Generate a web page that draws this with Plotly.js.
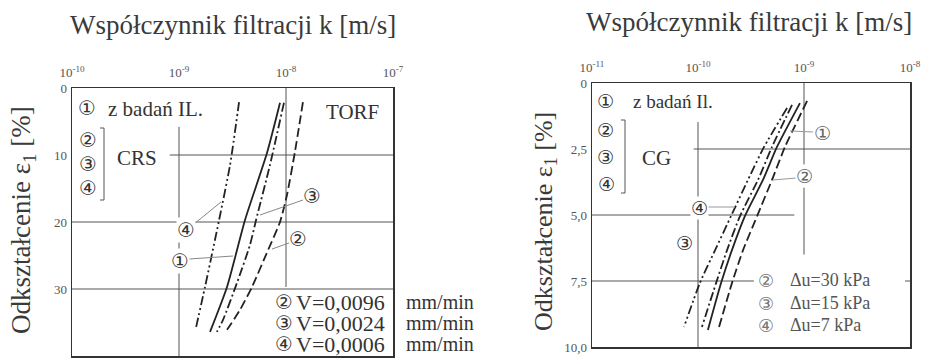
<!DOCTYPE html>
<html><head><meta charset="utf-8">
<script src="https://cdn.plot.ly/plotly-3.0.1.min.js"></script>
<style>html,body{margin:0;padding:0;background:#fff}#chart{width:928px;height:360px}</style>
</head><body><div id="chart"></div>
<script>
// ---------- DATA ----------
// Left panel: TORF — k [m/s] vs strain eps1 [%]
const torfK_IL    = [8.79e-9, 6.64e-9, 4.14e-9, 2.81e-9, 1.95e-9];
const torfE_IL    = [2.2, 9.7, 19.7, 29.7, 36.4];
const torfK_V0096 = [1.44e-8, 1.21e-8, 1.02e-8, 8.79e-9, 6.79e-9, 4.81e-9, 3.72e-9, 2.81e-9];
const torfE_V0096 = [2.1, 9.6, 16.0, 20.0, 24.2, 29.7, 33.1, 36.1];
const torfK_V0024 = [9.57e-9, 7.08e-9, 5.25e-9, 4.61e-9, 3.48e-9, 2.58e-9, 2.26e-9];
const torfE_V0024 = [2.2, 11.5, 19.7, 23.4, 29.1, 34.6, 36.4];
const torfK_V0006 = [3.64e-9, 3.00e-9, 2.37e-9, 1.75e-9, 1.44e-9];
const torfE_V0006 = [2.1, 11.5, 19.7, 29.7, 35.8];

// Right panel: CG
const cgK_IL  = [9.16e-10, 5.56e-10, 4.10e-10, 2.77e-10, 2.09e-10, 1.65e-10, 1.24e-10];
const cgE_IL  = [0.76, 2.42, 3.67, 5.04, 6.33, 7.58, 9.36];
const cgK_30  = [1.07e-9, 6.62e-10, 4.99e-10, 3.61e-10, 2.66e-10, 2.09e-10, 1.58e-10];
const cgE_30  = [0.68, 2.42, 3.67, 5.04, 6.33, 7.58, 9.24];
const cgK_15  = [7.71e-10, 4.99e-10, 3.68e-10, 2.49e-10, 1.88e-10, 1.48e-10, 1.09e-10];
const cgE_15  = [0.83, 2.42, 3.67, 5.04, 6.33, 7.58, 9.24];
const cgK_7   = [6.92e-10, 4.20e-10, 2.96e-10, 2.05e-10, 1.45e-10, 1.04e-10, 7.38e-11];
const cgE_7   = [0.95, 2.42, 3.67, 5.04, 6.33, 7.58, 9.24];

// Ticks
const torfXTickVals = [1e-10, 1e-9, 1e-8, 1e-7];
const torfXTickText = ['10<sup>-10</sup>', '10<sup>-9</sup>', '10<sup>-8</sup>', '10<sup>-7</sup>'];
const torfYTickVals = [0, 10, 20, 30, 40];
const torfYTickText = ['0', '10', '20', '30', '40'];
const cgXTickVals = [1e-11, 1e-10, 1e-9, 1e-8];
const cgXTickText = ['10<sup>-11</sup>', '10<sup>-10</sup>', '10<sup>-9</sup>', '10<sup>-8</sup>'];
const cgYTickVals = [0, 2.5, 5, 7.5, 10];
const cgYTickText = ['0', '2,5', '5,0', '7,5', '10,0'];

// Texts
const xTitle = 'Współczynnik filtracji k [m/s]';
const yTitle = 'Odkształcenie ε<sub>1</sub> [%]';
const torfLegend = ['V=0,0096', 'V=0,0024', 'V=0,0006'];
const cgLegend = ['Δu=30 kPa', 'Δu=15 kPa', 'Δu=7 kPa'];

// ---------- LAYOUT / STYLE ----------
const W = 928, H = 360;
const px = x => x / W, py = y => 1 - y / H;
const SERIF = 'Liberation Serif';
const SYM = 'DejaVu Sans';
const INK = '#222';
const GRID = '#555';

const dashStyles = {
  solid: 'solid',
  dashed: '9px,4px',
  dashdot: '9px,3px,2px,3px',
  dashdotdot: '9px,3px,2px,3px,2px,3px'
};

function tr(x, y, dash, xa, ya, name) {
  return { x, y, type: 'scatter', mode: 'lines', name, xaxis: xa, yaxis: ya,
    line: { color: INK, width: 1.8, dash, shape: 'spline', smoothing: 0.6 }, hoverinfo: 'skip' };
}

const data = [
  tr(torfK_IL, torfE_IL, dashStyles.solid, 'x', 'y', '1'),
  tr(torfK_V0096, torfE_V0096, dashStyles.dashed, 'x', 'y', '2'),
  tr(torfK_V0024, torfE_V0024, dashStyles.dashdot, 'x', 'y', '3'),
  tr(torfK_V0006, torfE_V0006, dashStyles.dashdotdot, 'x', 'y', '4'),
  tr(cgK_IL, cgE_IL, dashStyles.solid, 'x2', 'y2', '1'),
  tr(cgK_30, cgE_30, dashStyles.dashed, 'x2', 'y2', '2'),
  tr(cgK_15, cgE_15, dashStyles.dashdot, 'x2', 'y2', '3'),
  tr(cgK_7, cgE_7, dashStyles.dashdotdot, 'x2', 'y2', '4')
];

function xaxisDef(domain, range, vals, text, anchor) {
  return { type: 'log', side: 'top', domain, range, anchor,
    tickmode: 'array', tickvals: vals, ticktext: text, ticks: '',
    ticklabelstandoff: 4,
    tickfont: { family: SERIF, size: 13, color: '#555' },
    showgrid: false, zeroline: false,
    showline: true, mirror: true, linecolor: '#333', linewidth: 1.5, fixedrange: true };
}
function yaxisDef(domain, range, vals, text, anchor) {
  return { domain, range, anchor, tickmode: 'array', tickvals: vals, ticktext: text, ticks: '',
    ticklabelstandoff: 1,
    tickfont: { family: SERIF, size: 13, color: '#555' },
    showgrid: false, zeroline: false,
    showline: true, mirror: true, linecolor: '#333', linewidth: 1.5, fixedrange: true };
}

function gl(xref, yref, x0, y0, x1, y1, w) {
  return { type: 'line', xref, yref, x0, y0, x1, y1, line: { color: GRID, width: w || 1 }, layer: 'below' };
}
function pl(x0, y0, x1, y1, c) {
  return { type: 'line', xref: 'paper', yref: 'paper', x0: px(x0), y0: py(y0), x1: px(x1), y1: py(y1),
    line: { color: c || '#888', width: 1 } };
}

const shapes = [
  // left panel grid (partial lines like the original)
  gl('x', 'y', 1e-9, 5.8, 1e-9, 40),
  gl('x', 'y', 1e-8, 0, 1e-8, 29.7),
  gl('x', 'y', 8.2e-10, 10, 1e-7, 10),
  gl('x', 'y', 1e-10, 20, 1e-7, 20),
  gl('x', 'y', 1e-10, 30, 1e-7, 30),
  // right panel grid
  gl('x2', 'y2', 1e-10, 1.48, 1e-10, 10),
  gl('x2', 'y2', 1e-9, 0, 1e-9, 3.1),
  gl('x2', 'y2', 1e-9, 3.95, 1e-9, 6.5),
  gl('x2', 'y2', 9.1e-11, 2.5, 1e-8, 2.5),
  gl('x2', 'y2', 1e-11, 5, 8.1e-10, 5),
  gl('x2', 'y2', 1e-11, 7.5, 3.37e-10, 7.5),
  gl('x2', 'y2', 8.97e-9, 7.5, 1e-8, 7.5),
  // brackets
  { type: 'path', xref: 'paper', yref: 'paper', line: { color: '#555', width: 1 },
    path: `M ${px(100)} ${py(128)} L ${px(104)} ${py(128)} L ${px(104)} ${py(200)} L ${px(100)} ${py(200)}` },
  { type: 'path', xref: 'paper', yref: 'paper', line: { color: '#555', width: 1 },
    path: `M ${px(621)} ${py(120)} L ${px(625)} ${py(120)} L ${px(625)} ${py(193)} L ${px(621)} ${py(193)}` },
  // leader lines left
  pl(194, 224, 221, 202),
  pl(189, 259, 233, 256),
  pl(303, 200, 260, 215),
  pl(289, 243, 272, 249),
  // leader lines right
  pl(790, 131, 813, 132, '#999'),
  pl(773, 180, 796, 178, '#999'),
  pl(708, 207, 735, 207, '#999')
];

function t(x, y, text, size, o) {
  return Object.assign({ xref: 'paper', yref: 'paper', x: px(x), y: py(y), text, showarrow: false,
    xanchor: 'center', yanchor: 'middle', font: { family: SERIF, size, color: '#333' } }, o || {});
}
function circ(x, y, d, size, color, bg) {
  const glyph = ['①', '②', '③', '④'][d - 1];
  return t(x, y, glyph, size || 20, { font: { family: SYM, size: size || 20, color: color || '#333' },
    bgcolor: bg ? 'white' : 'rgba(0,0,0,0)', borderpad: 0 });
}

const annotations = [
  // titles
  t(233, 25, xTitle, 27, { font: { family: SERIF, size: 27, color: '#3a3a3a' } }),
  t(749, 22, xTitle, 27, { font: { family: SERIF, size: 27, color: '#3a3a3a' } }),
  t(23, 220, yTitle, 27, { textangle: -90, font: { family: SERIF, size: 27, color: '#3a3a3a' } }),
  t(545, 222, yTitle, 26, { textangle: -90, font: { family: SERIF, size: 26, color: '#3a3a3a' } }),
  // left panel labels
  circ(87, 108, 1),
  t(106, 109, 'z badań IL.', 21, { xanchor: 'left' }),
  t(352, 112, 'TORF', 21),
  circ(88, 140, 2), circ(88, 164, 3), circ(88, 188, 4),
  t(137, 158, 'CRS', 21),
  circ(186, 230, 4, 20, '#333', true),
  circ(180, 261, 1, 20, '#333', true),
  circ(312, 196, 3),
  circ(298, 239, 2),
  // left panel legend
  circ(284, 302, 2), circ(284, 323, 3), circ(284, 344, 4),
  t(294, 302, torfLegend[0], 22, { xanchor: 'left' }),
  t(294, 323, torfLegend[1], 22, { xanchor: 'left' }),
  t(294, 344, torfLegend[2], 22, { xanchor: 'left' }),
  t(404, 302, 'mm/min', 20, { xanchor: 'left' }),
  t(404, 323, 'mm/min', 20, { xanchor: 'left' }),
  t(404, 344, 'mm/min', 20, { xanchor: 'left' }),
  // right panel labels
  circ(605, 101, 1, 19),
  t(631, 101, 'z badań Il.', 19, { xanchor: 'left' }),
  circ(605, 130, 2, 19), circ(605, 157, 3, 19), circ(606, 184, 4, 19),
  t(656, 158, 'CG', 21),
  circ(822, 133, 1, 19, '#666'),
  circ(804, 176, 2, 19, '#666', true),
  circ(699, 208, 4, 19, '#333', true),
  circ(684, 243, 3, 19),
  // right panel legend
  circ(766, 280, 2, 18, '#777'), circ(766, 303, 3, 18, '#777'), circ(766, 325, 4, 18, '#777'),
  t(788, 280, cgLegend[0], 18, { xanchor: 'left', font: { family: SERIF, size: 18, color: '#555' } }),
  t(788, 303, cgLegend[1], 18, { xanchor: 'left', font: { family: SERIF, size: 18, color: '#555' } }),
  t(788, 325, cgLegend[2], 18, { xanchor: 'left', font: { family: SERIF, size: 18, color: '#555' } })
];

const layout = {
  width: W, height: H,
  margin: { l: 0, r: 0, t: 0, b: 0 },
  paper_bgcolor: '#fff', plot_bgcolor: 'rgba(0,0,0,0)',
  showlegend: false,
  xaxis: xaxisDef([72 / W, 393 / W], [-10, -7], torfXTickVals, torfXTickText, 'y'),
  yaxis: yaxisDef([1 - 356 / H, 1 - 88 / H], [40, 0], torfYTickVals, torfYTickText, 'x'),
  xaxis2: xaxisDef([592 / W, 910 / W], [-11, -8], cgXTickVals, cgXTickText, 'y2'),
  yaxis2: yaxisDef([1 - 347 / H, 1 - 83 / H], [10, 0], cgYTickVals, cgYTickText, 'x2'),
  shapes, annotations
};

Plotly.newPlot('chart', data, layout, { staticPlot: true, displayModeBar: false });
</script>
</body></html>
